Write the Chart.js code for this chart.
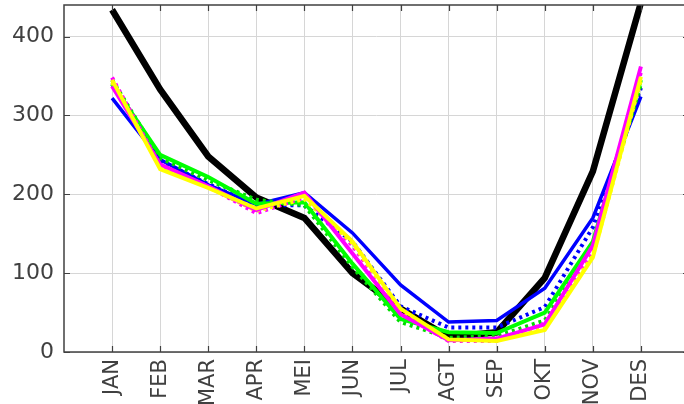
<!DOCTYPE html>
<html>
<head>
<meta charset="utf-8">
<script src="https://cdn.jsdelivr.net/npm/chart.js@4/dist/chart.umd.min.js"></script>
<style>
  html, body { margin: 0; padding: 0; background: #fff; overflow: hidden; }
  #wrap { position: relative; width: 692px; height: 404px; }
</style>
</head>
<body>
<div id="wrap"><canvas id="chart"></canvas></div>
<script>
const months = ['JAN', 'FEB', 'MAR', 'APR', 'MEI', 'JUN', 'JUL', 'AGT', 'SEP', 'OKT', 'NOV', 'DES']
const yTicks = [0, 100, 200, 300, 400]

// monthly values per series
const black        = [434, 333, 248, 196, 170, 100, 55, 19, 25, 94, 229, 443]
const blueSolid    = [322, 244, 212, 187, 202, 151, 85, 38, 40, 81, 170, 324]
const blueDot      = [340, 242, 213, 186, 186, 140, 58, 31, 31, 57, 158, 335]
const greenSolid   = [340, 250, 222, 188, 190, 112, 42, 25, 24, 50, 140, 345]
const greenDot     = [345, 246, 218, 193, 186, 108, 38, 18, 20, 40, 135, 340]
const magentaSolid = [337, 238, 210, 180, 202, 125, 48, 15, 17, 35, 135, 362]
const magentaDot   = [348, 236, 210, 176, 196, 135, 50, 14, 14, 36, 125, 355]
const yellowSolid  = [345, 232, 208, 182, 198, 140, 55, 16, 14, 28, 120, 349]
const yellowDot    = [342, 235, 209, 179, 194, 138, 52, 15, 15, 31, 122, 345]

const toPoints = vals => vals.map((v, i) => ({ x: i + 1, y: v }))

function series(vals, color, width, dotted) {
    return {
        data: toPoints(vals),
        borderColor: color,
        backgroundColor: color,
        borderWidth: width,
        borderDash: dotted ? [3, 4] : [],
        pointRadius: 0,
        tension: 0,
        borderJoinStyle: 'miter',
        borderCapStyle: 'butt'
    }
}

const AXIS = '#404040'

// no extra room around the scales, the plot area is placed by hand
function noPad(s) {
    s.paddingTop = 0
    s.paddingBottom = 0
    s.paddingLeft = 0
    s.paddingRight = 0
}

// box round the plot area plus short inward tick marks
const frame = {
    id: 'frame',
    afterDraw(chart) {
        const { ctx, chartArea: a, scales } = chart
        ctx.save()
        ctx.strokeStyle = AXIS
        ctx.lineWidth = 1.5
        ctx.strokeRect(a.left, a.top, a.right - a.left, a.bottom - a.top)
        ctx.lineWidth = 1.2
        ctx.beginPath()
        scales.x.ticks.forEach(t => {
            const px = Math.round(scales.x.getPixelForValue(t.value)) + 0.5
            ctx.moveTo(px, a.bottom); ctx.lineTo(px, a.bottom - 6)
            ctx.moveTo(px, a.top); ctx.lineTo(px, a.top + 6)
        })
        scales.y.ticks.forEach(t => {
            const py = Math.round(scales.y.getPixelForValue(t.value)) + 0.5
            ctx.moveTo(a.left, py); ctx.lineTo(a.left + 6, py)
            ctx.moveTo(a.right, py); ctx.lineTo(a.right - 6, py)
        })
        ctx.stroke()
        ctx.restore()
    }
}

new Chart(document.getElementById('chart'), {
    type: 'line',
    data: {
        datasets: [
            series(yellowSolid, '#ffff00', 4, false),
            series(magentaSolid, '#ff00ff', 4, false),
            series(yellowDot, '#ffff00', 4, true),
            series(magentaDot, '#ff00ff', 4, true),
            series(greenSolid, '#00ff00', 4, false),
            series(greenDot, '#00dd00', 4, true),
            series(blueSolid, '#0000ff', 3.5, false),
            series(blueDot, '#0000ff', 4, true),
            series(black, '#000000', 6.5, false)
        ]
    },
    options: {
        responsive: true,
        maintainAspectRatio: false,
        animation: false,
        layout: { padding: { top: 5, right: 3, left: 0, bottom: 0 } },
        plugins: { legend: { display: false }, tooltip: { enabled: false } },
        scales: {
            x: {
                type: 'linear',
                min: 0,
                max: 13,
                afterBuildTicks: s => { s.ticks = months.map((m, i) => ({ value: i + 1 })) },
                afterFit: s => { s.height = 52; noPad(s) },
                grid: { color: '#d6d6d6', lineWidth: 1, drawTicks: false },
                border: { display: false },
                ticks: {
                    color: AXIS,
                    font: { family: 'DejaVu Sans', size: 21 },
                    padding: 7,
                    minRotation: 90,
                    maxRotation: 90,
                    autoSkip: false,
                    callback: v => months[v - 1] || ''
                }
            },
            y: {
                min: 0,
                max: 440,
                afterBuildTicks: s => { s.ticks = yTicks.map(v => ({ value: v })) },
                afterFit: s => { s.width = 64; noPad(s) },
                grid: { color: '#d6d6d6', lineWidth: 1, drawTicks: false },
                border: { display: false },
                ticks: {
                    color: AXIS,
                    font: { family: 'DejaVu Sans', size: 22 },
                    padding: 10
                }
            }
        }
    },
    plugins: [frame]
})
</script>
</body>
</html>
